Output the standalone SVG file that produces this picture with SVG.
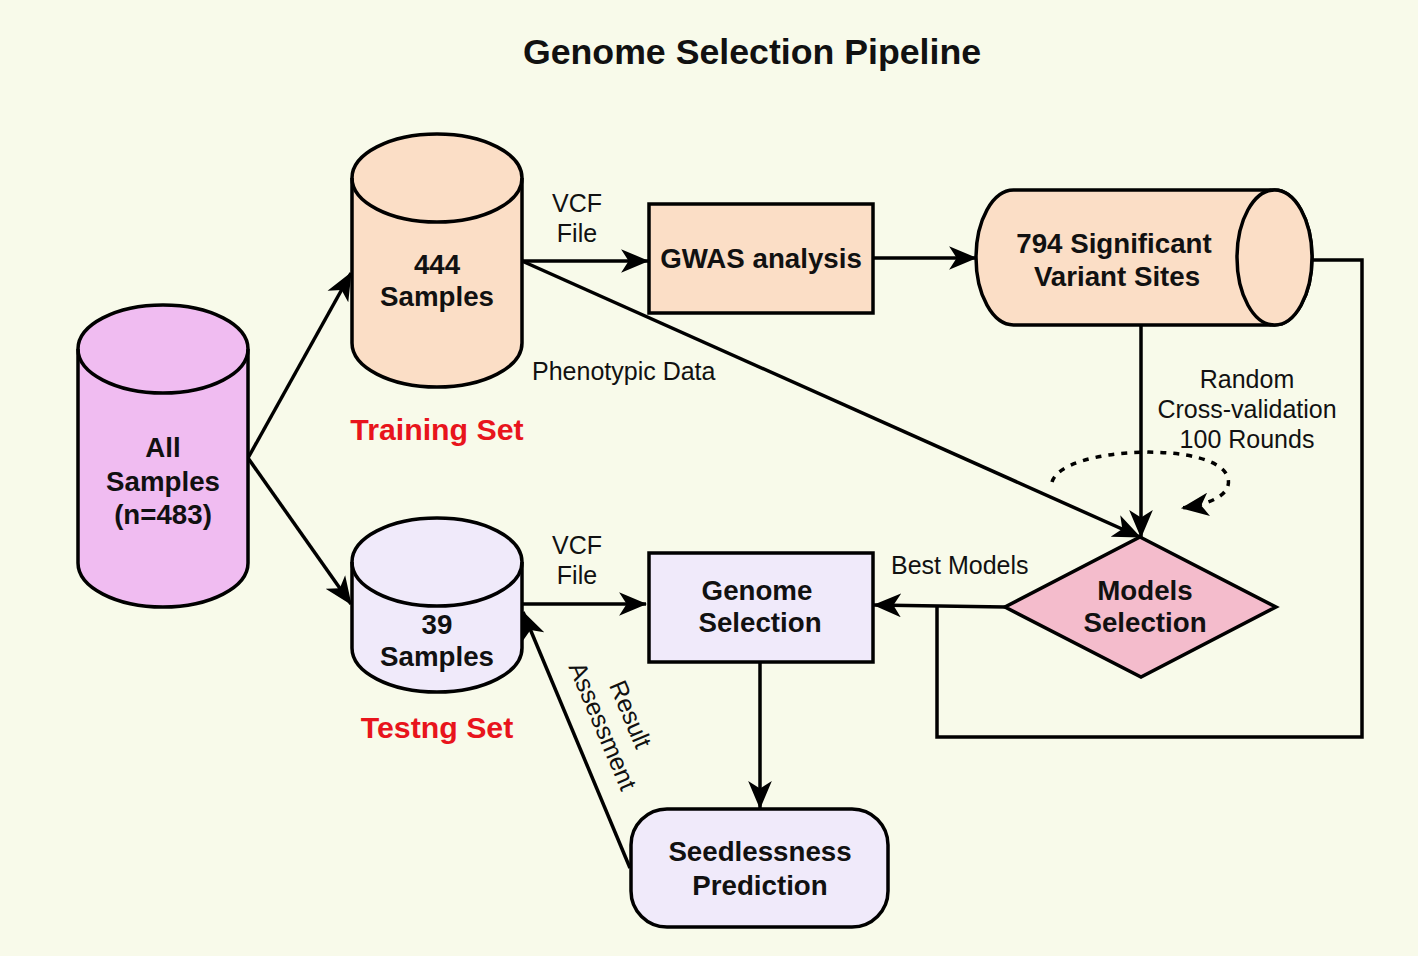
<svg xmlns="http://www.w3.org/2000/svg" width="1418" height="956" viewBox="0 0 1418 956">
<defs>
<style>
.bg{fill:#f8faea}
.shape{stroke:#000;stroke-width:3.5}
.peach{fill:#fbdec6}
.violet{fill:#f0bcf1}
.lav{fill:#f0eafa}
.pink{fill:#f4bccc}
.b{font-family:"Liberation Sans",Arial,sans-serif;font-weight:bold;font-size:27.7px;fill:#111;text-anchor:middle}
.n{font-family:"Liberation Sans",Arial,sans-serif;font-size:25px;fill:#111}
.c{text-anchor:middle}
.red{font-family:"Liberation Sans",Arial,sans-serif;font-weight:bold;font-size:30.3px;fill:#e8141c;text-anchor:middle}
.title{font-family:"Liberation Sans",Arial,sans-serif;font-weight:bold;font-size:35.7px;fill:#111;text-anchor:middle}
.line{fill:none;stroke:#000;stroke-width:3.5}
.dot{fill:none;stroke:#000;stroke-width:3.5;stroke-dasharray:6 7}
</style>
<marker id="arr" viewBox="0 0 26 22" refX="25" refY="11" markerWidth="28" markerHeight="24" markerUnits="userSpaceOnUse" orient="auto">
<path d="M0,0 L26,11 L0,22 L7,11 Z" fill="#000"/>
</marker>
</defs>
<rect class="bg" x="0" y="0" width="1418" height="956"/>
<text class="title" x="752" y="64">Genome Selection Pipeline</text>

<g id="connectors">
<line class="line" x1="248" y1="458" x2="351" y2="273" marker-end="url(#arr)"/>
<line class="line" x1="248" y1="458" x2="351" y2="604" marker-end="url(#arr)"/>
<line class="line" x1="522" y1="261" x2="648" y2="261" marker-end="url(#arr)"/>
<line class="line" x1="522" y1="261" x2="1140" y2="537" marker-end="url(#arr)"/>
<line class="line" x1="873" y1="258" x2="976" y2="258" marker-end="url(#arr)"/>
<line class="line" x1="1141" y1="325" x2="1141" y2="537" marker-end="url(#arr)"/>
<path class="dot" d="M1052,482 C1062,446 1218,440 1228,478 C1232,494 1212,504 1182,508" marker-end="url(#arr)"/>
<line class="line" x1="1005" y1="607" x2="874" y2="605" marker-end="url(#arr)"/>
<polyline class="line" points="1312,260 1362,260 1362,737 937,737 937,606"/>
<line class="line" x1="522" y1="604" x2="646" y2="604" marker-end="url(#arr)"/>
<line class="line" x1="760" y1="663" x2="760" y2="808" marker-end="url(#arr)"/>
<line class="line" x1="630" y1="868" x2="523" y2="612" marker-end="url(#arr)"/>
<text class="n c" x="577" y="212">VCF</text>
<text class="n c" x="577" y="242">File</text>
<text class="n" x="532" y="380">Phenotypic Data</text>
<text class="n c" x="1247" y="388">Random</text>
<text class="n c" x="1247" y="418">Cross-validation</text>
<text class="n c" x="1247" y="448">100 Rounds</text>
<text class="n" x="891" y="574">Best Models</text>
<text class="n c" x="577" y="554">VCF</text>
<text class="n c" x="577" y="584">File</text>
<g transform="translate(617,720) rotate(67)">
<text class="n c" x="0" y="-6">Result</text>
<text class="n c" x="0" y="24">Assessment</text>
</g>
</g>

<g id="all-samples">
<path class="shape violet" d="M78,349 A85,44 0 0 1 248,349 L248,563 A85,44 0 0 1 78,563 Z"/>
<path class="shape" fill="none" d="M78,349 A85,44 0 0 0 248,349"/>
<text class="b" x="163" y="457">All</text>
<text class="b" x="163" y="491">Samples</text>
<text class="b" x="163" y="524">(n=483)</text>
</g>

<g id="training-samples">
<path class="shape peach" d="M352,178 A85,44 0 0 1 522,178 L522,343 A85,44 0 0 1 352,343 Z"/>
<path class="shape" fill="none" d="M352,178 A85,44 0 0 0 522,178"/>
<text class="b" x="437" y="274">444</text>
<text class="b" x="437" y="306">Samples</text>
</g>
<text class="red" x="437" y="440">Training Set</text>

<g id="testing-samples">
<path class="shape lav" d="M352,562 A85,44 0 0 1 522,562 L522,648 A85,44 0 0 1 352,648 Z"/>
<path class="shape" fill="none" d="M352,562 A85,44 0 0 0 522,562"/>
<text class="b" x="437" y="634">39</text>
<text class="b" x="437" y="666">Samples</text>
</g>
<text class="red" x="437" y="738">Testng Set</text>

<g id="gwas">
<rect class="shape peach" x="649" y="204" width="224" height="109"/>
<text class="b" x="761" y="268">GWAS analysis</text>
</g>

<g id="variant-sites">
<path class="shape peach" d="M1013.5,190 L1274.5,190 A37.5,67.5 0 0 1 1274.5,325 L1013.5,325 A37.5,67.5 0 0 1 1013.5,190 Z"/>
<ellipse class="shape peach" cx="1274.5" cy="257.5" rx="37.5" ry="67.5"/>
<text class="b" x="1114" y="253">794 Significant</text>
<text class="b" x="1117" y="286">Variant Sites</text>
</g>

<g id="models-selection">
<polygon class="shape pink" points="1140,537 1276,607 1141,677 1005,607"/>
<text class="b" x="1145" y="600">Models</text>
<text class="b" x="1145" y="632">Selection</text>
</g>

<g id="genome-selection">
<rect class="shape lav" x="649" y="553" width="224" height="109"/>
<text class="b" x="757" y="600">Genome</text>
<text class="b" x="760" y="632">Selection</text>
</g>

<g id="seedlessness">
<rect class="shape lav" x="631" y="809" width="257" height="118" rx="36" ry="36"/>
<text class="b" x="760" y="861">Seedlessness</text>
<text class="b" x="760" y="895">Prediction</text>
</g>
</svg>
